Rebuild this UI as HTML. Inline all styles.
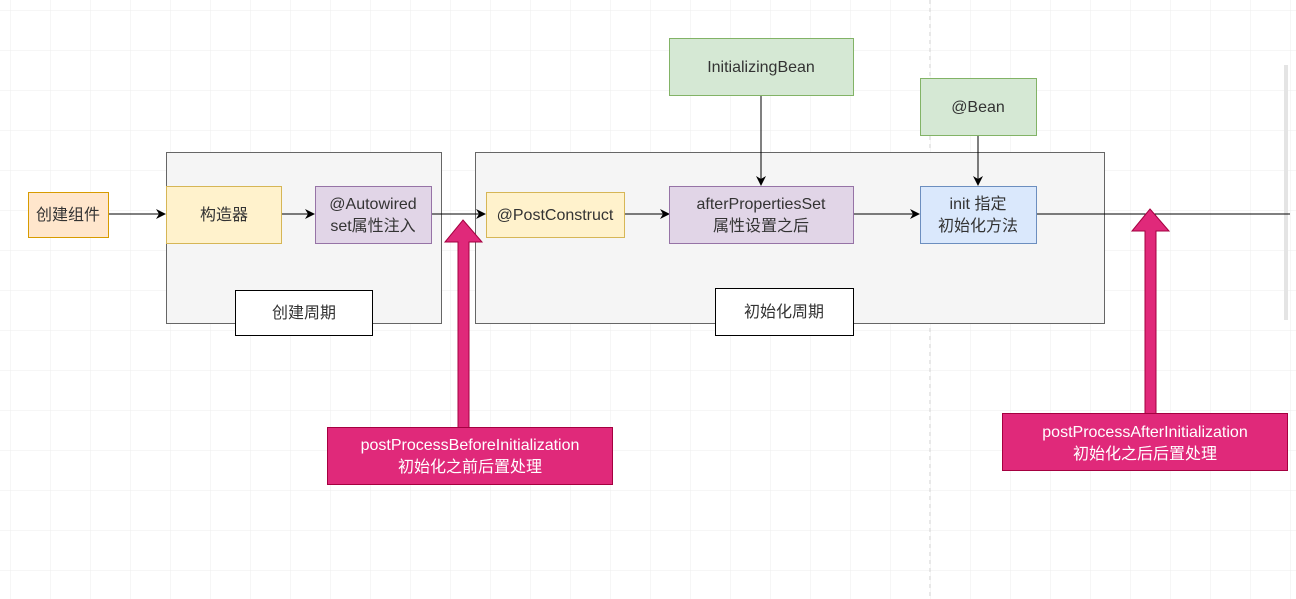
<!DOCTYPE html>
<html><head><meta charset="utf-8"><style>
html,body{margin:0;padding:0;background:#fff;}
svg{display:block;}
text{font-family:"Liberation Sans","Noto Sans CJK SC",sans-serif;font-size:16px;fill:#333;}
</style></head><body>
<svg width="1296" height="599" viewBox="0 0 1296 599" xmlns="http://www.w3.org/2000/svg">
<defs>
<pattern id="g" width="40" height="40" patternUnits="userSpaceOnUse" x="10" y="10">
<path d="M40 0H0V40" fill="none" stroke="#eeeeee" stroke-width="1"/>
</pattern>
<marker id="a" markerWidth="10" markerHeight="10" refX="9" refY="5" orient="auto" markerUnits="userSpaceOnUse">
<path d="M0,0 L10,5 L0,10 L3,5 z" fill="#000"/>
</marker>
</defs>
<rect width="1296" height="599" fill="url(#g)"/>
<line x1="930" y1="0" x2="930" y2="599" stroke="#d0d0d0" stroke-dasharray="4,4"/>
<rect x="1284" y="65" width="4" height="255" fill="#e4e4e4"/>

<!-- containers -->
<rect x="166.5" y="152.5" width="275" height="171" fill="#f5f5f5" stroke="#666"/>
<rect x="475.5" y="152.5" width="629" height="171" fill="#f5f5f5" stroke="#666"/>

<!-- lines -->
<line x1="109" y1="214" x2="165" y2="214" stroke="#000" marker-end="url(#a)"/>
<line x1="281" y1="214" x2="314" y2="214" stroke="#000" marker-end="url(#a)"/>
<line x1="431" y1="214" x2="485" y2="214" stroke="#000" marker-end="url(#a)"/>
<line x1="624" y1="214" x2="669" y2="214" stroke="#000" marker-end="url(#a)"/>
<line x1="853" y1="214" x2="919" y2="214" stroke="#000" marker-end="url(#a)"/>
<line x1="1036" y1="214" x2="1290" y2="214" stroke="#000"/>
<line x1="761" y1="95" x2="761" y2="185" stroke="#000" marker-end="url(#a)"/>
<line x1="978" y1="135" x2="978" y2="185" stroke="#000" marker-end="url(#a)"/>

<!-- nodes -->
<rect x="28.5" y="192.5" width="80" height="45" fill="#ffe6cc" stroke="#d79b00"/>
<text x="68" y="220" text-anchor="middle">创建组件</text>
<rect x="166.5" y="186.5" width="115" height="57" fill="#fff2cc" stroke="#d6b656"/>
<text x="224" y="220" text-anchor="middle">构造器</text>
<rect x="315.5" y="186.5" width="116" height="57" fill="#e1d5e7" stroke="#9673a6"/>
<text x="373" y="209" text-anchor="middle">@Autowired</text>
<text x="373" y="231" text-anchor="middle">set属性注入</text>
<rect x="235.5" y="290.5" width="137" height="45" fill="#fff" stroke="#000"/>
<text x="304" y="318" text-anchor="middle">创建周期</text>

<rect x="486.5" y="192.5" width="138" height="45" fill="#fff2cc" stroke="#d6b656"/>
<text x="555" y="220" text-anchor="middle">@PostConstruct</text>
<rect x="669.5" y="186.5" width="184" height="57" fill="#e1d5e7" stroke="#9673a6"/>
<text x="761" y="209" text-anchor="middle">afterPropertiesSet</text>
<text x="761" y="231" text-anchor="middle">属性设置之后</text>
<rect x="920.5" y="186.5" width="116" height="57" fill="#dae8fc" stroke="#6c8ebf"/>
<text x="978" y="209" text-anchor="middle">init 指定</text>
<text x="978" y="231" text-anchor="middle">初始化方法</text>
<rect x="669.5" y="38.5" width="184" height="57" fill="#d5e8d4" stroke="#82b366"/>
<text x="761" y="72" text-anchor="middle">InitializingBean</text>
<rect x="920.5" y="78.5" width="116" height="57" fill="#d5e8d4" stroke="#82b366"/>
<text x="978" y="112" text-anchor="middle">@Bean</text>
<rect x="715.5" y="288.5" width="138" height="47" fill="#fff" stroke="#000"/>
<text x="784" y="317" text-anchor="middle">初始化周期</text>

<!-- pink arrows -->
<path d="M463,220 L482,242 L469,242 L469,428 L458,428 L458,242 L445,242 Z" fill="#e0297a" stroke="#a50040" stroke-width="1"/>
<rect x="327.5" y="427.5" width="285" height="57" fill="#e0297a" stroke="#a50040"/>
<text x="470" y="450" text-anchor="middle" style="fill:#fff">postProcessBeforeInitialization</text>
<text x="470" y="472" text-anchor="middle" style="fill:#fff">初始化之前后置处理</text>

<path d="M1150,209 L1169,231 L1156,231 L1156,414 L1145,414 L1145,231 L1132,231 Z" fill="#e0297a" stroke="#a50040" stroke-width="1"/>
<rect x="1002.5" y="413.5" width="285" height="57" fill="#e0297a" stroke="#a50040"/>
<text x="1145" y="437" text-anchor="middle" style="fill:#fff">postProcessAfterInitialization</text>
<text x="1145" y="459" text-anchor="middle" style="fill:#fff">初始化之后后置处理</text>
</svg>
</body></html>
